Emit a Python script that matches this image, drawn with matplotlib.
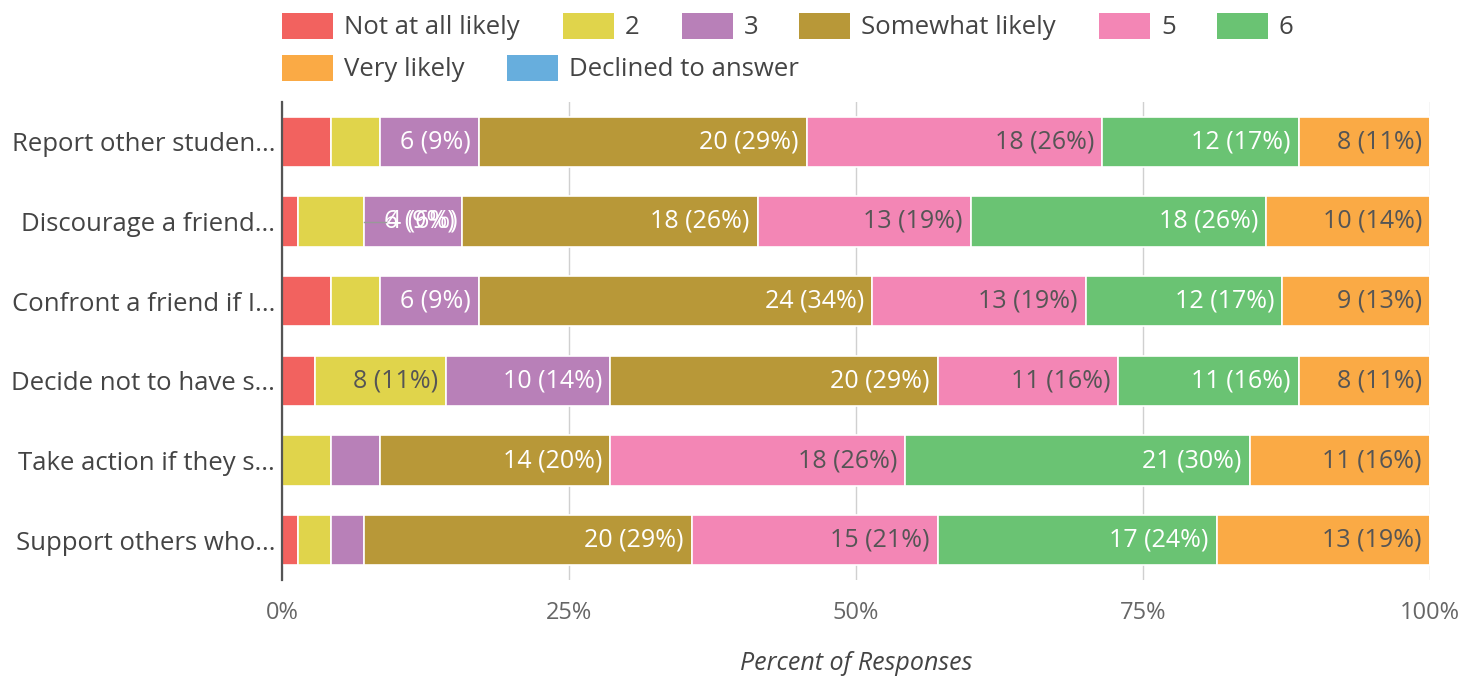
import matplotlib
matplotlib.use("Agg")
import matplotlib.pyplot as plt
from matplotlib.patches import Rectangle
import numpy as np

plt.rcParams['font.family'] = ['Open Sans', 'DejaVu Sans']

# Survey items (truncated as displayed) and response counts per rating
questions = [
    "Report other studen...",
    "Discourage a friend...",
    "Confront a friend if I...",
    "Decide not to have s...",
    "Take action if they s...",
    "Support others who...",
]
series_names = ["Not at all likely", "2", "3", "Somewhat likely", "5", "6",
                "Very likely", "Declined to answer"]
not_at_all = [3, 1, 3, 2, 0, 1]
two = [3, 4, 3, 8, 3, 2]
three = [6, 6, 6, 10, 3, 2]
somewhat = [20, 18, 24, 20, 14, 20]
five = [18, 13, 13, 11, 18, 15]
six = [12, 18, 12, 11, 21, 17]
very_likely = [8, 10, 9, 8, 11, 13]
declined = [0, 0, 0, 0, 0, 0]
total_responses = 70

series_values = [not_at_all, two, three, somewhat, five, six, very_likely, declined]
colors = ["#F2625F", "#E0D44B", "#B880B8", "#B89838", "#F386B5", "#6AC373",
          "#FAAA45", "#67AEDD"]
label_colors = ["#FFFFFF", "#555555", "#FFFFFF", "#FFFFFF", "#555555", "#FFFFFF",
                "#555555", "#FFFFFF"]

W, H = 1481, 677
fig = plt.figure(figsize=(W / 100, H / 100), dpi=100)
ax = fig.add_axes([282 / W, 1 - 580 / H, (1430 - 282) / W, (580 - 102) / H])

y = np.arange(len(questions))
left = np.zeros(len(questions))
bar_h = 0.63
min_label_count = 4
label_fs = 18

renderer = fig.canvas.get_renderer()
px_per_unit = (1430 - 282) / 100.0

for name, vals, col, lcol in zip(series_names, series_values, colors, label_colors):
    vals = np.array(vals, dtype=float)
    pct = vals / total_responses * 100
    ax.barh(y, pct, left=left, height=bar_h, color=col, edgecolor="white",
            linewidth=1.2, zorder=3, label=name)
    for i, (v, p, l) in enumerate(zip(vals, pct, left)):
        if v >= min_label_count:
            txt = f"{int(v)} ({p:.0f}%)"
            end = l + p
            t = ax.text(end - 0.7, i, txt, ha="right", va="center",
                        fontsize=label_fs, color=lcol, zorder=5)
            bb = t.get_window_extent(renderer=renderer)
            if bb.width + 6 > p * px_per_unit:
                # label does not fit: move it right of the segment with a leader line
                t.remove()
                x0 = end + 1.9
                ax.plot([end, x0], [i, i], color="#999999", lw=1, zorder=6)
                ax.text(x0 + 0.1, i, txt, ha="left", va="center", fontsize=label_fs,
                        color="#FFFFFF", zorder=6)
    left = left + pct

ax.set_xlim(0, 100)
ax.set_ylim(len(questions) - 0.5, -0.5)
ax.set_yticks(y)
ax.set_yticklabels(questions, fontsize=18.5, color="#444444")
ax.set_xticks([0, 25, 50, 75, 100])
ax.set_xticklabels(["0%", "25%", "50%", "75%", "100%"], fontsize=17, color="#666666")
ax.tick_params(axis="y", length=0, pad=5)
ax.tick_params(axis="x", length=0, pad=15)
ax.grid(axis="x", color="#D0D0D0", linewidth=1, zorder=0)
for s in ["top", "right", "bottom"]:
    ax.spines[s].set_visible(False)
ax.spines["left"].set_color("#555555")
ax.spines["left"].set_linewidth(1.6)
ax.spines["left"].set_zorder(6)
ax.set_xlabel("Percent of Responses", fontsize=18, style="italic", color="#444444",
              labelpad=19)

# Legend laid out in two flowing rows
legend_pos = [(282, 26), (563, 26), (682, 26), (799, 26), (1099, 26), (1217, 26),
              (282, 68), (507, 68)]
for (lx, ly), name, col in zip(legend_pos, series_names, colors):
    fig.patches.append(Rectangle((lx / W, 1 - (ly + 13) / H), 51 / W, 26 / H,
                                 transform=fig.transFigure, facecolor=col,
                                 edgecolor="none"))
    fig.text((lx + 62) / W, 1 - (ly + 2) / H, name, ha="left", va="center",
             fontsize=18.5, color="#444444")

fig.savefig("out.png", dpi=100)
